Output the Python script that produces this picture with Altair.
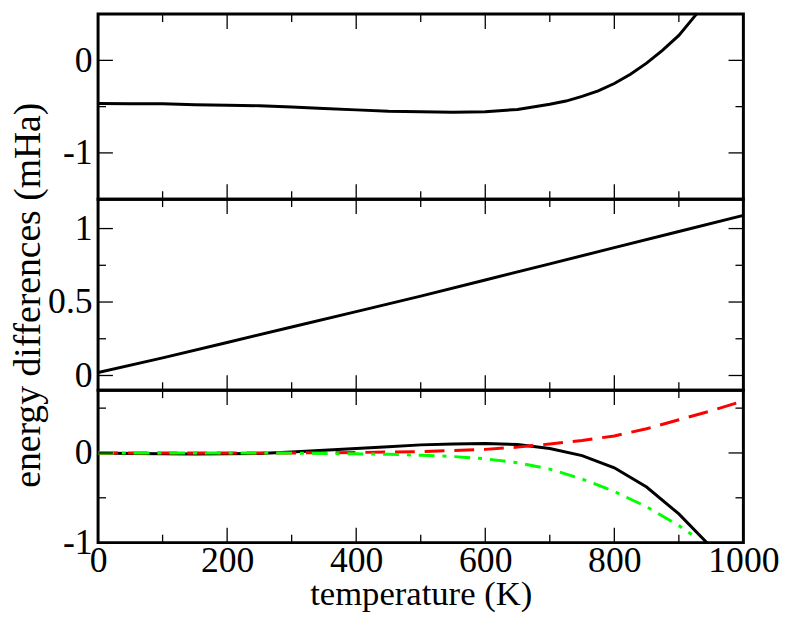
import altair as alt
import pandas as pd

# ---------------- data ----------------
top_t = [0, 50, 100, 150, 200, 250, 300, 350, 400, 450, 500, 550, 600, 650,
         700, 725, 750, 775, 800, 825, 850, 875, 900, 925, 950]
top_v = [-0.465, -0.47, -0.47, -0.48, -0.485, -0.49, -0.505, -0.52, -0.535, -0.55,
         -0.555, -0.56, -0.555, -0.53, -0.474, -0.44, -0.39, -0.33, -0.25, -0.15,
         -0.03, 0.11, 0.27, 0.48, 0.70]

mid_t = [0, 100, 200, 300, 400, 500, 600, 700, 800, 900, 1000]
mid_v = [0.02, 0.12, 0.225, 0.33, 0.435, 0.54, 0.65, 0.76, 0.87, 0.98, 1.09]

bot_black_t = [0, 50, 100, 150, 200, 250, 300, 350, 400, 450, 500, 550, 600, 650,
               700, 750, 800, 850, 900, 950]
bot_black_v = [0.0, -0.005, -0.01, -0.012, -0.01, -0.005, 0.01, 0.03, 0.05, 0.07,
               0.09, 0.10, 0.105, 0.095, 0.05, -0.03, -0.165, -0.38, -0.68, -1.05]

bot_red_t = [0, 100, 200, 300, 400, 500, 600, 650, 700, 750, 800, 850, 900, 950, 1000]
bot_red_v = [0.0, 0.0, 0.0, 0.0, 0.005, 0.015, 0.04, 0.065, 0.10, 0.14, 0.19, 0.27,
             0.37, 0.47, 0.58]

bot_green_t = [0, 100, 200, 300, 400, 450, 500, 550, 600, 650, 700, 750, 800, 850, 900, 920]
bot_green_v = [0.0, 0.0, 0.0, -0.002, -0.01, -0.015, -0.025, -0.04, -0.065, -0.11,
               -0.18, -0.29, -0.43, -0.60, -0.81, -0.91]

x_major = [0, 200, 400, 600, 800, 1000]
x_minor = [100, 300, 500, 700, 900]

top_major = [-1, 0]
top_minor = [-0.5]
mid_major = [0, 0.5, 1]
mid_minor = [0.25, 0.75]
bot_major = [-1, 0]
bot_minor = [-0.5, 0.5]

# ---------------- styling ----------------
FONT = "Liberation Serif"
W = 652
MAJ = 15
MIN = 8
LW = 3
LABEL_FS = 36
LABEL_EXPR = "replace(format(datum.value, '~g'), '\u2212', '-')"

xscale = alt.Scale(domain=[0, 1000], nice=False, zero=False)


def line_layer(t, v, yscale, yaxis, xaxis, color="black", dash=None):
    df = pd.DataFrame({"t": t, "v": v})
    kw = {}
    if dash is not None:
        kw["strokeDash"] = dash
    return alt.Chart(df).mark_line(color=color, strokeWidth=LW, clip=True, **kw).encode(
        x=alt.X("t:Q", scale=xscale, axis=xaxis),
        y=alt.Y("v:Q", scale=yscale, axis=yaxis),
    )


def tick_layers(h, yscale, ymaj, ymin, xaxis, yaxis):
    layers = []
    for vals, L in ((x_major, MAJ), (x_minor, MIN)):
        df = pd.DataFrame({"t": vals})
        for y0, y1 in ((0, L), (h, h - L)):
            layers.append(alt.Chart(df).mark_rule(color="black", strokeWidth=1.3).encode(
                x=alt.X("t:Q", scale=xscale, axis=xaxis),
                y=alt.value(y0), y2=alt.value(y1)))
    for vals, L in ((ymaj, MAJ), (ymin, MIN)):
        df = pd.DataFrame({"v": vals})
        for x0, x1 in ((0, L), (W, W - L)):
            layers.append(alt.Chart(df).mark_rule(color="black", strokeWidth=1.3).encode(
                y=alt.Y("v:Q", scale=yscale, axis=yaxis),
                x=alt.value(x0), x2=alt.value(x1)))
    return layers


def yaxis(values, title=None):
    kw = dict(values=values, ticks=False, domain=False, grid=False,
              labelFontSize=LABEL_FS, labelColor="black", labelPadding=6,
              labelExpr=LABEL_EXPR, minExtent=49, maxExtent=49)
    if title:
        kw.update(title=title, titleFontSize=38, titleFontWeight="normal",
                  titleColor="black", titlePadding=2)
    else:
        kw.update(title=None)
    return alt.Axis(**kw)


# top panel
H1 = 187
ys1 = alt.Scale(domain=[-1.5, 0.5], nice=False, zero=False)
ya1 = yaxis(top_major)
top = alt.layer(
    line_layer(top_t, top_v, ys1, ya1, None),
    *tick_layers(H1, ys1, top_major, top_minor, None, ya1),
).properties(width=W, height=H1)

# middle panel
H2 = 193
ys2 = alt.Scale(domain=[-0.1, 1.2], nice=False, zero=False)
ya2 = yaxis(mid_major, "energy differences (mHa)")
mid = alt.layer(
    line_layer(mid_t, mid_v, ys2, ya2, None),
    *tick_layers(H2, ys2, mid_major, mid_minor, None, ya2),
).properties(width=W, height=H2)

# bottom panel
H3 = 154
ys3 = alt.Scale(domain=[-1, 0.7], nice=False, zero=False)
ya3 = yaxis(bot_major)
xa3 = alt.Axis(values=x_major, ticks=False, domain=False, grid=False,
               labelFontSize=LABEL_FS, labelColor="black", labelPadding=1,
               labelExpr=LABEL_EXPR,
               title="temperature (K)", titleFontSize=35,
               titleFontWeight="normal", titleColor="black", titlePadding=-1,
               labelFlush=False)
bot = alt.layer(
    line_layer(bot_black_t, bot_black_v, ys3, ya3, xa3),
    line_layer(bot_red_t, bot_red_v, ys3, ya3, xa3, color="#ff0000", dash=[20, 10]),
    line_layer(bot_green_t, bot_green_v, ys3, ya3, xa3, color="#00ff00",
               dash=[16, 8, 4, 8]),
    *tick_layers(H3, ys3, bot_major, bot_minor, xa3, ya3),
).properties(width=W, height=H3)

chart = alt.vconcat(top, mid, bot, spacing=0, bounds="flush").properties(
    padding={"left": 0, "top": 0, "right": 0, "bottom": 0},
    background="white",
).configure(font=FONT).configure_axis(
    labelFont=FONT, titleFont=FONT
).configure_view(stroke="black", strokeWidth=3)

chart.save("out.html", embed_options={"renderer": "svg", "actions": False})
